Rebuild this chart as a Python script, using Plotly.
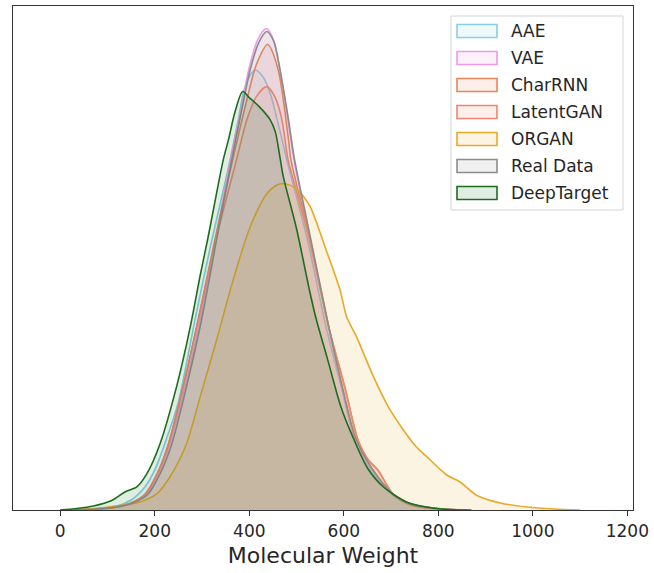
import plotly.graph_objects as go

# ---- data (x: molecular weight, y: KDE density, arbitrary units) ----
series_names = ["AAE", "VAE", "CharRNN", "LatentGAN", "ORGAN", "Real Data", "DeepTarget"]

aae_x = [30, 80, 120, 150, 179, 200, 221, 250, 285, 320, 355, 377, 391, 412, 430, 445, 460, 482, 524, 560, 595, 625, 660, 703, 742, 800, 860]
aae_y = [0, 1.5, 4, 10, 23, 40, 66, 108, 190, 268, 340, 390, 423, 439.5, 432, 415, 388, 345, 268, 188, 122, 68, 38, 15, 5, 1, 0]

vae_x = [30, 80, 120, 150, 182, 207, 232, 264, 296, 328, 360, 383, 400, 418, 436, 451, 464, 481, 494, 525, 566, 596, 624, 661, 700, 740, 800, 860]
vae_y = [0, 1, 3, 7, 16, 36, 66, 123, 190, 268, 350, 402, 442, 470, 481, 470, 442, 392, 352, 279, 187, 123, 70, 40, 17, 6, 1.5, 0]

charrnn_x = [30, 80, 120, 150, 180, 205, 229, 260, 292, 325, 365, 395, 415, 439, 461, 483, 488, 526, 568, 602, 630, 652, 672, 704, 742, 800, 860]
charrnn_y = [0, 1, 3, 7, 16, 36, 66, 123, 190, 265, 350, 410, 445, 465, 440, 370, 350, 276, 183, 123, 70, 50, 40, 16, 5, 1, 0]

latentgan_x = [30, 80, 120, 150, 180, 205, 229, 260, 292, 325, 373, 395, 415, 437, 455, 469, 482, 502, 526, 568, 602, 630, 652, 672, 704, 742, 800, 860]
latentgan_y = [0, 1, 3, 7, 16, 36, 66, 123, 190, 262, 350, 390, 413, 423, 412, 390, 350, 315, 272, 183, 123, 70, 50, 40, 16, 5, 1, 0]

organ_x = [0, 70, 119, 169, 204, 232, 267, 296, 331, 366, 402, 437, 460, 476, 500, 515, 529, 564, 592, 606, 627, 663, 698, 750, 776, 818, 846, 882, 931, 988, 1045, 1100]
organ_y = [0, 1.5, 4, 8, 16, 33, 66, 113, 170, 230, 283, 316, 325, 326, 321, 313, 303, 258, 220, 193, 173, 133, 100, 65, 53, 35, 28, 14.5, 7, 3, 1, 0]

real_x = [30, 80, 120, 154, 186, 211, 236, 267, 299, 330, 363, 385, 402, 420, 437, 452, 465, 483, 495, 526, 567, 597, 625, 662, 702, 740, 800, 860]
real_y = [0, 1, 3, 7, 16, 36, 66, 123, 190, 268, 350, 402, 440, 467, 478, 468, 440, 390, 352, 280, 186, 123, 72, 40, 17, 6, 1.5, 0]

deeptarget_x = [0, 35, 70, 109, 137, 162, 183, 211, 246, 276, 296, 313, 345, 356, 370, 386, 400, 421, 444, 455, 465, 472, 500, 529, 542, 566, 594, 620, 650, 684, 733, 775, 820, 870]
deeptarget_y = [0, 1.5, 4, 9.5, 18, 23, 36, 66, 123, 185, 234, 273, 350, 370, 398, 418, 412, 403, 390, 378, 352, 333, 281, 216, 190, 150, 103, 72, 42, 23, 8, 3, 0.5, 0]

x_ticks = [0, 200, 400, 600, 800, 1000, 1200]
x_label = "Molecular Weight"

# ---- styling ----
line_colors = ["#87CEEB", "#EE9AE8", "#E8845C", "#F0866E", "#E9A825", "#8C8C8C", "#1B6E20"]
fill_alpha = 0.13

def rgba(hex_color, a):
    h = hex_color.lstrip("#")
    r, g, b = int(h[0:2], 16), int(h[2:4], 16), int(h[4:6], 16)
    return f"rgba({r},{g},{b},{a})"

xs = [aae_x, vae_x, charrnn_x, latentgan_x, organ_x, real_x, deeptarget_x]
ys = [aae_y, vae_y, charrnn_y, latentgan_y, organ_y, real_y, deeptarget_y]

fig = go.Figure()
for name, x, y, c in zip(series_names, xs, ys, line_colors):
    fig.add_trace(go.Scatter(
        x=x, y=y, name=name, mode="lines",
        line=dict(color=c, width=1.6, shape="spline", smoothing=0.8),
        fill="tozeroy", fillcolor=rgba(c, fill_alpha),
        showlegend=False, hoverinfo="x+y+name",
    ))

# plot area in pixels
W, H = 654, 573
L, R, T, B = 13, 21, 6, 63
pw, ph = W - L - R, H - T - B

def px_to_paper(px, py):
    return (px - L) / pw, (H - B - py) / ph

# manual legend (matplotlib-style patches)
bx0, by0 = px_to_paper(451, 16)
bx1, by1 = px_to_paper(623, 210)
fig.add_shape(type="rect", xref="paper", yref="paper", x0=bx0, y0=by1, x1=bx1, y1=by0,
              line=dict(color="#D5D5D5", width=1), fillcolor="rgba(255,255,255,0.85)", layer="above")
for i, (name, c) in enumerate(zip(series_names, line_colors)):
    cy = 31 + 27 * i
    x0, y0 = px_to_paper(457, cy - 6.5)
    x1, y1 = px_to_paper(497, cy + 6.5)
    fig.add_shape(type="rect", xref="paper", yref="paper", x0=x0, y0=y1, x1=x1, y1=y0,
                  line=dict(color=c, width=1.6), fillcolor=rgba(c, fill_alpha), layer="above")
    tx, ty = px_to_paper(509, cy)
    fig.add_annotation(x=tx, y=ty, xref="paper", yref="paper", text=name, showarrow=False,
                       xanchor="left", yanchor="middle",
                       font=dict(family="DejaVu Sans", size=17, color="#262626"))

fig.update_layout(
    width=W, height=H, autosize=False,
    margin=dict(l=L, r=R, t=T, b=B, pad=0),
    paper_bgcolor="white", plot_bgcolor="white",
    showlegend=False,
    font=dict(family="DejaVu Sans", color="#262626"),
)
fig.update_xaxes(
    range=[-100, 1212], tickvals=x_ticks, ticktext=[str(v) for v in x_ticks],
    ticks="outside", ticklen=5, tickwidth=1, tickcolor="#333",
    tickfont=dict(size=17, color="#262626"),
    showline=True, linecolor="#333", linewidth=1.3, mirror=True,
    showgrid=False, zeroline=False,
    title=dict(text=x_label, font=dict(size=22, color="#262626"), standoff=8),
)
fig.update_yaxes(
    range=[0, 503.5], showticklabels=False, ticks="",
    showline=True, linecolor="#333", linewidth=1.3, mirror=True,
    showgrid=False, zeroline=False,
)

fig.write_html("out.html", config={"displayModeBar": False},
               post_script="document.body.style.margin='0';document.body.style.overflow='hidden';")
